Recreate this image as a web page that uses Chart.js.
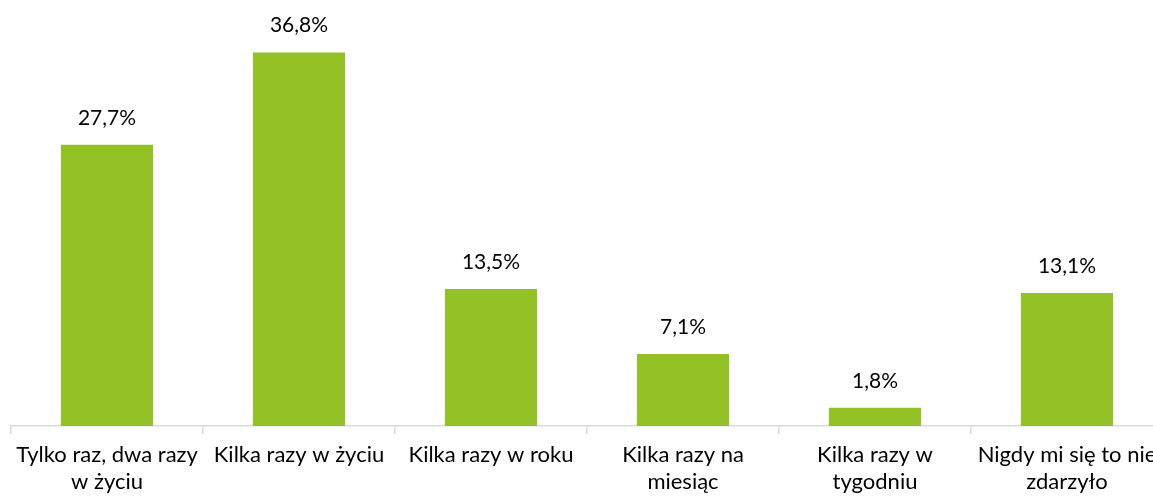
<!DOCTYPE html>
<html>
<head>
<meta charset="utf-8">
<script src="https://cdn.jsdelivr.net/npm/chart.js@4/dist/chart.umd.min.js"></script>
<style>
  html, body { margin: 0; padding: 0; background: #fff; overflow: hidden; }
  #wrap { width: 1165px; height: 497px; }
</style>
</head>
<body>
<div id="wrap"><canvas id="chart"></canvas></div>
<script>
const categories = [
    ['Tylko raz, dwa razy', 'w życiu'],
    'Kilka razy w życiu',
    'Kilka razy w roku',
    ['Kilka razy na', 'miesiąc'],
    ['Kilka razy w', 'tygodniu'],
    ['Nigdy mi się to nie', 'zdarzyło'],
];
const values = [27.7, 36.8, 13.5, 7.1, 1.8, 13.1];

const barColor = '#93c126';
const axisColor = '#d9d9d9';
const fontFamily = 'Lato, "Noto Sans", sans-serif';

// draws the percentage above each bar
const valueLabels = {
    id: 'valueLabels',
    afterDatasetsDraw(chart) {
        const ctx = chart.ctx;
        const meta = chart.getDatasetMeta(0);
        ctx.save();
        ctx.font = '21px ' + fontFamily;
        ctx.fillStyle = '#000';
        ctx.textAlign = 'center';
        ctx.textBaseline = 'alphabetic';
        meta.data.forEach(function (bar, i) {
            const txt = values[i].toFixed(1).replace('.', ',') + '%';
            ctx.fillText(txt, bar.x, bar.y - 20);
        });
        ctx.restore();
    },
};

new Chart(document.getElementById('chart'), {
    type: 'bar',
    data: {
        labels: categories,
        datasets: [{
            data: values,
            backgroundColor: barColor,
            categoryPercentage: 1,
            barPercentage: 0.48,
        }],
    },
    options: {
        responsive: true,
        maintainAspectRatio: false,
        animation: false,
        layout: { padding: { left: 11, right: 2, top: 20, bottom: 0 } },
        plugins: { legend: { display: false }, tooltip: { enabled: false } },
        scales: {
            y: { display: false, min: 0, max: 40 },
            x: {
                grid: { offset: true, drawOnChartArea: false, tickLength: 8, color: axisColor, lineWidth: 1.5 },
                border: { color: axisColor, width: 1.5 },
                ticks: { color: '#000', font: { family: fontFamily, size: 22, lineHeight: 1.2 }, padding: 8, maxRotation: 0, autoSkip: false },
                afterFit(scale) { scale.height = 71; },
            },
        },
    },
    plugins: [valueLabels],
});
</script>
</body>
</html>
